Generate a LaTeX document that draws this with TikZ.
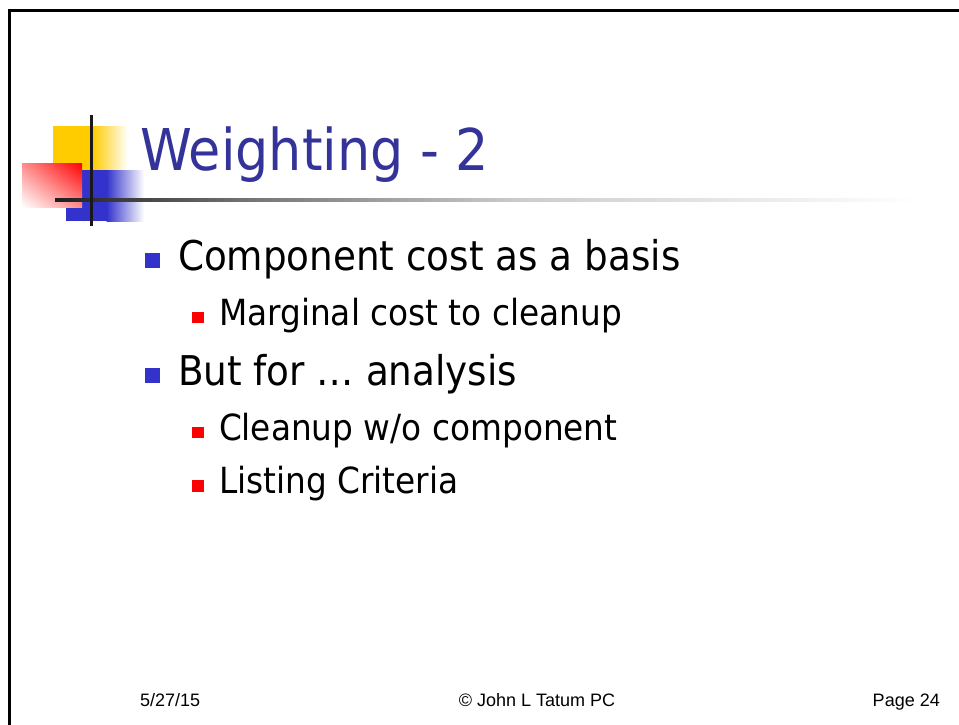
\documentclass[tikz,border=0pt]{standalone}
\usepackage{fontspec}
\usetikzlibrary{shadings}
\newfontfamily\tahoma[FakeStretch=0.91]{DejaVu Sans}
\newfontfamily\arialf{Liberation Sans}
\definecolor{titleblue}{HTML}{333399}
\definecolor{bulblue}{HTML}{3333CC}
\definecolor{decoyellow}{HTML}{FFCC00}
\definecolor{decoblue}{HTML}{3333CC}
\definecolor{decored}{HTML}{FF0000}
\pgfdeclarehorizontalshading{rulefade}{100bp}{color(0bp)=(black!88); color(25bp)=(black!88); color(36bp)=(black!55); color(52bp)=(black!20); color(66bp)=(black!8); color(75bp)=(white); color(100bp)=(white)}
\tikzset{
  txt/.style={anchor=base west, inner sep=0pt, outer sep=0pt},
  lvlone/.style={txt, font=\tahoma\fontsize{41}{44}\selectfont},
  lvltwo/.style={txt, font=\tahoma\fontsize{36}{39}\selectfont},
  foot/.style={inner sep=0pt, font=\arialf\fontsize{18}{20}\selectfont},
  bulone/.style={fill=bulblue, draw=none},
  bultwo/.style={fill=decored, draw=none},
}
\begin{document}
\begin{tikzpicture}[x=1pt,y=-1pt]
\useasboundingbox (0,0) rectangle (959,725);
\fill[white] (0,0) rectangle (959,725);
% frame
\draw[line width=3pt] (9.5,725) -- (9.5,11) -- (959,11);
% decoration
\fill[decoyellow] (53,126) rectangle (93,170);
\shade[left color=decoyellow, right color=white] (92.5,126) rectangle (128,170);
\fill[decoblue] (66,170) rectangle (107,221);
\shade[left color=decoblue, right color=white] (106.5,170) rectangle (144,221);
\shade[upper right=decored, upper left=decored!45, lower right=decored!45, lower left=white] (22,163) rectangle (82,207);
\shade[shading=rulefade] (55,198.5) rectangle (915,201.5);
\fill[black!90] (89.5,115) rectangle (92.5,226);
% title
\node[txt, text=titleblue, font=\tahoma\fontsize{57.6}{60}\selectfont] (title) at (140,170) {Weighting - 2};
% bullets
\fill[bulone] (145,253) rectangle (160,268);
\node[lvlone] (b1) at (178,270) {Component cost as a basis};
\fill[bultwo] (192,312) rectangle (204,323);
\node[lvltwo] (b11) at (219,325) {Marginal cost to cleanup};
\fill[bulone] (145,368) rectangle (160,383);
\node[lvlone] (b2) at (178,385) {But for … analysis};
\fill[bultwo] (192,427) rectangle (204,438);
\node[lvltwo] (b21) at (219,440) {Cleanup w/o component};
\fill[bultwo] (192,480) rectangle (204,492);
\node[lvltwo] (b22) at (219,493) {Listing Criteria};
% footer
\node[foot, anchor=base west] (date) at (140,706) {5/27/15};
\node[foot, anchor=base] (copy) at (537,706) {© John L Tatum PC};
\node[foot, anchor=base east] (page) at (940,706) {Page 24};
\end{tikzpicture}
\end{document}
